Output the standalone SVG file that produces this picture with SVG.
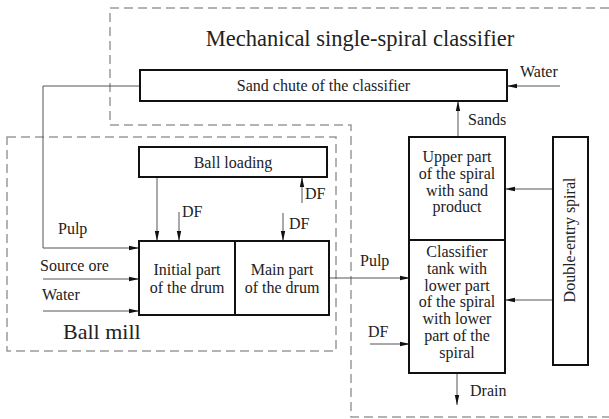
<svg xmlns="http://www.w3.org/2000/svg" width="609" height="419" viewBox="0 0 609 419">
<style>
.box{fill:#fff;stroke:#111;stroke-width:2}
.ln{fill:none;stroke:#555;stroke-width:1}
.dash{fill:none;stroke:#9a9a9a;stroke-width:1.5;stroke-dasharray:9 5}
text{font-family:"Liberation Serif","Times New Roman",serif;fill:#222;font-size:16px}
.c{text-anchor:middle}
</style>
<defs>
<marker id="ah" viewBox="0 0 10 6" refX="10" refY="3" markerWidth="10" markerHeight="6" markerUnits="userSpaceOnUse" orient="auto">
<path d="M0,0.8 L10,3 L0,5.2 Z" fill="#111"/>
</marker>
</defs>
<g id="regions">
<path class="dash" d="M609,8 H110 V125 H351 V417 H609"/>
<path class="dash" d="M7,137 H336 V351 H7 Z"/>
<text x="360" y="46" class="c" style="font-size:22.5px">Mechanical single-spiral classifier</text>
<text x="63" y="339" style="font-size:22px">Ball mill</text>
</g>
<g id="connectors">
<path class="ln" d="M140,86 H43 V248 H139" marker-end="url(#ah)"/>
<path class="ln" d="M43,279 H139" marker-end="url(#ah)"/>
<path class="ln" d="M43,311 H139" marker-end="url(#ah)"/>
<path class="ln" d="M157,177 V241" marker-end="url(#ah)"/>
<path class="ln" d="M179,212 V241" marker-end="url(#ah)"/>
<path class="ln" d="M283,213 V241" marker-end="url(#ah)"/>
<path class="ln" d="M302,203 V177" marker-end="url(#ah)"/>
<path class="ln" d="M329,278 H410" marker-end="url(#ah)"/>
<path class="ln" d="M370,344 H410" marker-end="url(#ah)"/>
<path class="ln" d="M457,373 V405" marker-end="url(#ah)"/>
<path class="ln" d="M458,137 V101" marker-end="url(#ah)"/>
<path class="ln" d="M560,86 H507" marker-end="url(#ah)"/>
<path class="ln" d="M553,189 H505" marker-end="url(#ah)"/>
<path class="ln" d="M553,300 H505" marker-end="url(#ah)"/>
<text x="58" y="234">Pulp</text>
<text x="40" y="271">Source ore</text>
<text x="42" y="300">Water</text>
<text x="182" y="217">DF</text>
<text x="289" y="229">DF</text>
<text x="305" y="199">DF</text>
<text x="360" y="266">Pulp</text>
<text x="368" y="337">DF</text>
<text x="470" y="396">Drain</text>
<text x="468" y="125">Sands</text>
<text x="520" y="77">Water</text>
</g>
<g id="sand-chute">
<rect class="box" x="140" y="70" width="367" height="31"/>
<text x="323.5" y="91" class="c">Sand chute of the classifier</text>
</g>
<g id="ball-loading">
<rect class="box" x="139" y="147" width="188" height="30"/>
<text x="233" y="168" class="c">Ball loading</text>
</g>
<g id="drum-initial">
<rect class="box" x="139" y="241" width="96" height="74"/>
<text x="187" y="275" class="c">Initial part</text>
<text x="187" y="293" class="c">of the drum</text>
</g>
<g id="drum-main">
<rect class="box" x="235" y="241" width="94" height="74"/>
<text x="282" y="275" class="c">Main part</text>
<text x="282" y="293" class="c">of the drum</text>
</g>
<g id="spiral-upper">
<rect class="box" x="409" y="137" width="96" height="103"/>
<text x="457" y="162" class="c">Upper part</text>
<text x="457" y="179" class="c">of the spiral</text>
<text x="457" y="196" class="c">with sand</text>
<text x="457" y="212" class="c">product</text>
</g>
<g id="classifier-tank">
<rect class="box" x="409" y="240" width="96" height="133"/>
<text x="457" y="257" class="c">Classifier</text>
<text x="457" y="274" class="c">tank with</text>
<text x="457" y="291" class="c">lower part</text>
<text x="457" y="307" class="c">of the spiral</text>
<text x="457" y="324" class="c">with lower</text>
<text x="457" y="341" class="c">part of the</text>
<text x="457" y="358" class="c">spiral</text>
</g>
<g id="double-entry-spiral">
<rect class="box" x="553" y="137" width="35" height="228"/>
<text transform="translate(575,240) rotate(-90)" class="c">Double-entry spiral</text>
</g>
</svg>
